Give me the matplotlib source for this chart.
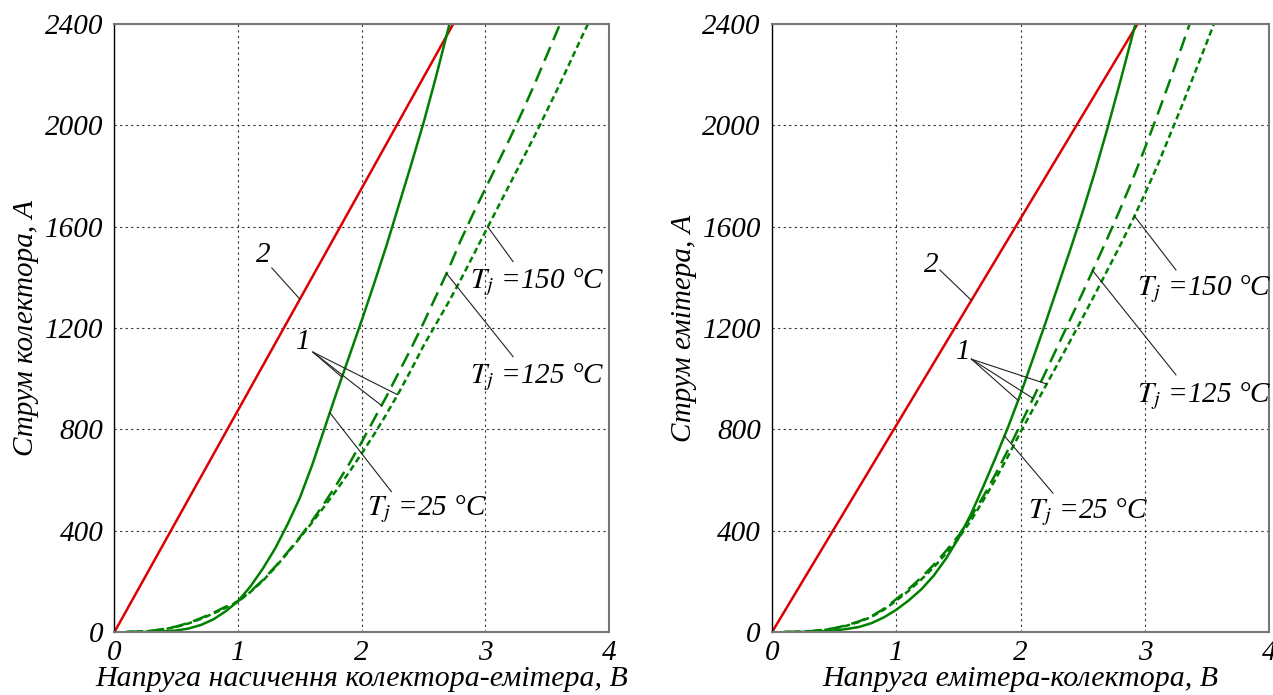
import numpy as np
import matplotlib
matplotlib.use('Agg')
import matplotlib.pyplot as plt

# шрифт як у Times, курсив
plt.rcParams['font.family'] = ['Liberation Serif', 'DejaVu Serif']
plt.rcParams['font.style'] = 'italic'
plt.rcParams['mathtext.fontset'] = 'stix'

# ліва панель: колектор-емітер
v_red_l = [0.0, 2.74]
i_red_l = [0, 2400]
v25_l = [0.1, 0.2, 0.3, 0.4, 0.5, 0.6, 0.7, 0.8, 0.9, 1.0, 1.1, 1.2, 1.3, 1.4, 1.5, 1.6, 1.7,
         1.8, 1.9, 2.0, 2.1, 2.2, 2.3, 2.4, 2.5, 2.6, 2.71]
i25_l = [0, 0, 1, 3, 6, 14, 28, 50, 82, 122, 180, 250, 330, 425, 530, 660, 805,
         950, 1090, 1230, 1375, 1525, 1685, 1845, 2010, 2190, 2400]
v125_l = [0.1, 0.2, 0.3, 0.4, 0.5, 0.6, 0.7, 0.8, 0.9, 1.0, 1.1, 1.2, 1.3, 1.4, 1.5, 1.6, 1.7,
          1.8, 1.9, 2.0, 2.1, 2.2, 2.3, 2.4, 2.5, 2.6, 2.7, 2.8, 2.9, 3.0, 3.1, 3.2, 3.3, 3.4,
          3.5, 3.6]
i125_l = [0, 2, 5, 12, 22, 36, 55, 76, 100, 122, 160, 205, 258, 315, 375, 440, 510,
          585, 665, 750, 840, 930, 1025, 1120, 1220, 1325, 1430, 1545, 1650, 1750, 1850, 1950, 2055, 2165,
          2280, 2395]
v150_l = [0.1, 0.2, 0.3, 0.4, 0.5, 0.6, 0.7, 0.8, 0.9, 1.0, 1.1, 1.2, 1.3, 1.4, 1.5, 1.6, 1.7,
          1.8, 1.9, 2.0, 2.1, 2.2, 2.3, 2.4, 2.5, 2.6, 2.7, 2.8, 2.9, 3.0, 3.1, 3.2, 3.3, 3.4,
          3.5, 3.6, 3.7, 3.8, 3.83]
i150_l = [0, 2, 4, 11, 20, 34, 52, 73, 96, 120, 158, 202, 255, 312, 372, 433, 497,
          563, 632, 705, 780, 860, 945, 1035, 1130, 1215, 1300, 1390, 1485, 1580, 1675, 1770, 1865, 1960,
          2060, 2160, 2265, 2370, 2400]

# права панель: емітер-колектор
v_red_r = [0.0, 2.94]
i_red_r = [0, 2400]
v25_r = [0.1, 0.2, 0.3, 0.4, 0.5, 0.6, 0.7, 0.8, 0.9, 1.0, 1.1, 1.2, 1.3, 1.4, 1.5, 1.6, 1.7,
         1.8, 1.9, 2.0, 2.1, 2.2, 2.3, 2.4, 2.5, 2.6, 2.7, 2.8, 2.924]
i25_r = [0, 0, 1, 3, 6, 12, 20, 35, 58, 88, 125, 168, 222, 290, 370, 465, 575,
         690, 810, 940, 1080, 1220, 1365, 1510, 1660, 1820, 1990, 2170, 2400]
v125_r = [0.1, 0.2, 0.3, 0.4, 0.5, 0.6, 0.7, 0.8, 0.9, 1.0, 1.1, 1.2, 1.3, 1.4, 1.5, 1.6, 1.7,
          1.8, 1.9, 2.0, 2.1, 2.2, 2.3, 2.4, 2.5, 2.6, 2.7, 2.8, 2.9, 3.0, 3.1, 3.2, 3.3, 3.36]
i125_r = [0, 1, 3, 8, 15, 27, 42, 62, 92, 130, 170, 215, 265, 320, 380, 455, 535,
          625, 720, 820, 922, 1025, 1130, 1235, 1340, 1448, 1556, 1668, 1785, 1910, 2040, 2175, 2315, 2400]
v150_r = [0.1, 0.2, 0.3, 0.4, 0.5, 0.6, 0.7, 0.8, 0.9, 1.0, 1.1, 1.2, 1.3, 1.4, 1.5, 1.6, 1.7,
          1.8, 1.9, 2.0, 2.1, 2.2, 2.3, 2.4, 2.5, 2.6, 2.7, 2.8, 2.9, 3.0, 3.1, 3.2, 3.3, 3.4,
          3.5, 3.555]
i150_r = [0, 1, 3, 7, 14, 25, 40, 60, 88, 124, 163, 207, 255, 310, 370, 440, 520,
          605, 695, 790, 880, 970, 1060, 1150, 1242, 1335, 1430, 1525, 1625, 1730, 1840, 1960, 2080, 2205,
          2330, 2400]

x_ticks = [0, 1, 2, 3, 4]
y_ticks = [0, 400, 800, 1200, 1600, 2000, 2400]

red = '#dd0000'
green = '#008000'
fs = 21

fig = plt.figure(figsize=(12.73, 6.95), dpi=100)
ax_l = fig.add_axes([0.0899, 0.0906, 0.3885, 0.8749])
ax_r = fig.add_axes([0.6065, 0.0906, 0.3905, 0.8749])


def setup(ax, xlabel, ylabel):
    ax.set_xlim(0, 4)
    ax.set_ylim(0, 2400)
    ax.set_xticks(x_ticks)
    ax.set_yticks(y_ticks)
    ax.tick_params(length=0, labelsize=fs, pad=8)
    ax.tick_params(axis='x', pad=6)
    ax.grid(True, color='#333333', linestyle=(0, (2, 3)), linewidth=0.8)
    for s in ['top', 'right', 'bottom']:
        ax.spines[s].set_color('#777777')
        ax.spines[s].set_linewidth(1.5)
    ax.spines['left'].set_color('black')
    ax.spines['left'].set_linewidth(1.0)
    ax.set_xlabel(xlabel, fontsize=21.5, labelpad=0)
    ax.set_ylabel(ylabel, fontsize=fs, labelpad=4)


def leader(ax, x0, y0, x1, y1):
    ax.plot([x0, x1], [y0, y1], color='#222222', linewidth=0.8, clip_on=False)


def curves(ax, vr, ir, v25, i25, v125, i125, v150, i150):
    ax.plot(vr, ir, color=red, linewidth=1.8)
    ax.plot(v25, i25, color=green, linewidth=1.8)
    ax.plot(v125, i125, color=green, linewidth=1.8, linestyle=(0, (6, 3)))
    ax.plot(v150, i150, color=green, linewidth=1.8, linestyle=(0, (2.5, 1.5)))


# ліва
setup(ax_l, 'Напруга насичення колектора-емітера, В', 'Струм колектора, А')
curves(ax_l, v_red_l, i_red_l, v25_l, i25_l, v125_l, i125_l, v150_l, i150_l)
ax_l.text(1.20, 1488, '2', fontsize=fs, ha='center', va='center')
leader(ax_l, 1.273, 1437, 1.50, np.interp(1.50, v_red_l, i_red_l))
ax_l.text(1.524, 1145, '1', fontsize=fs, ha='center', va='center')
leader(ax_l, 1.605, 1105, 1.84, np.interp(1.84, v25_l, i25_l))
leader(ax_l, 1.605, 1105, 2.16, np.interp(2.16, v125_l, i125_l))
leader(ax_l, 1.605, 1105, 2.29, np.interp(2.29, v150_l, i150_l))
ax_l.text(2.874, 1358, r'$T_j$ =150 °C', fontsize=fs, ha='left', va='baseline')
leader(ax_l, 3.02, np.interp(3.02, v150_l, i150_l), 3.224, 1462)
ax_l.text(2.874, 983, r'$T_j$ =125 °C', fontsize=fs, ha='left', va='baseline')
leader(ax_l, 2.686, np.interp(2.686, v125_l, i125_l), 3.224, 1087)
ax_l.text(2.04, 462, r'$T_j$ =25 °C', fontsize=fs, ha='left', va='baseline')
leader(ax_l, 1.742, np.interp(1.742, v25_l, i25_l), 2.24, 554)

# права
setup(ax_r, 'Напруга емітера-колектора, В', 'Струм емітера, А')
curves(ax_r, v_red_r, i_red_r, v25_r, i25_r, v125_r, i125_r, v150_r, i150_r)
ax_r.text(1.283, 1449, '2', fontsize=fs, ha='center', va='center')
leader(ax_r, 1.35, 1429, 1.604, np.interp(1.604, v_red_r, i_red_r))
ax_r.text(1.537, 1107, '1', fontsize=fs, ha='center', va='center')
leader(ax_r, 1.604, 1077, 1.98, np.interp(1.98, v25_r, i25_r))
leader(ax_r, 1.604, 1077, 2.10, np.interp(2.10, v125_r, i125_r))
leader(ax_r, 1.604, 1077, 2.21, np.interp(2.21, v150_r, i150_r))
ax_r.text(2.94, 1330, r'$T_j$ =150 °C', fontsize=fs, ha='left', va='baseline')
leader(ax_r, 2.916, np.interp(2.916, v150_r, i150_r), 3.25, 1429)
ax_r.text(2.94, 909, r'$T_j$ =125 °C', fontsize=fs, ha='left', va='baseline')
leader(ax_r, 2.58, np.interp(2.58, v125_r, i125_r), 3.25, 1015)
ax_r.text(2.06, 450, r'$T_j$ =25 °C', fontsize=fs, ha='left', va='baseline')
leader(ax_r, 1.87, np.interp(1.87, v25_r, i25_r), 2.26, 548)

fig.savefig('out.png', dpi=100)
